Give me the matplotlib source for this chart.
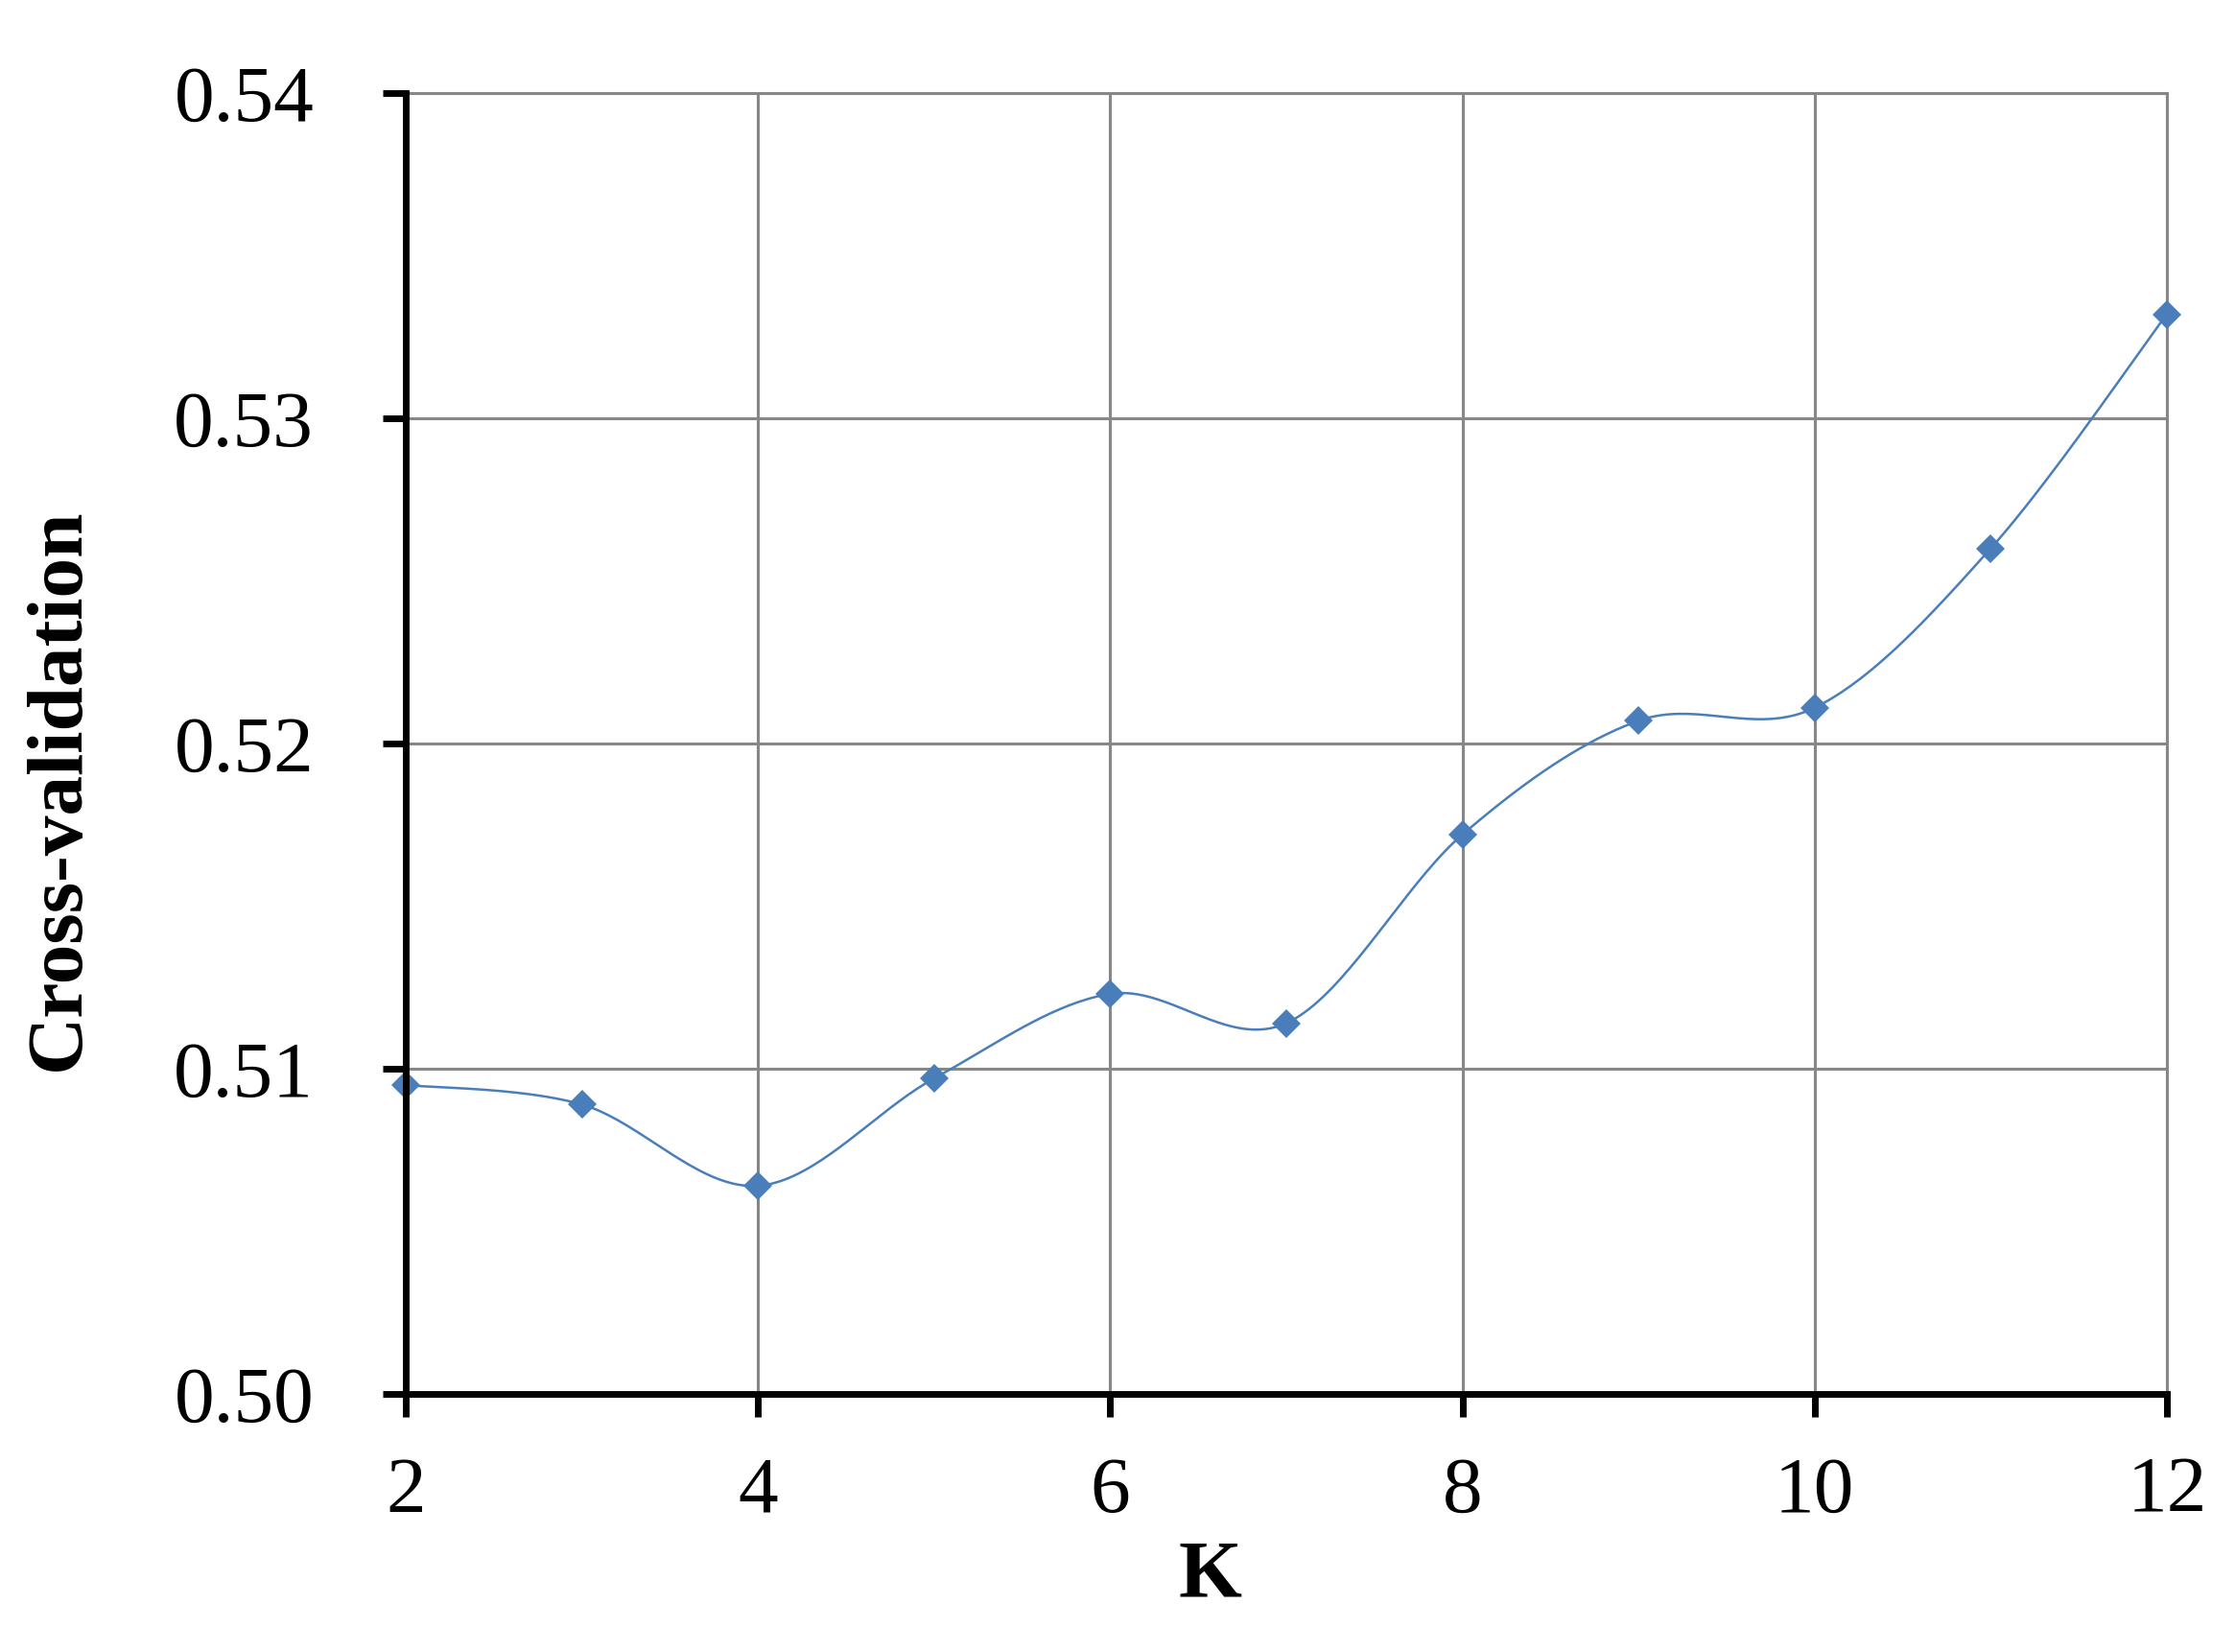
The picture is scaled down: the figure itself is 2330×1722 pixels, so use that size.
import numpy as np
import matplotlib
matplotlib.use("Agg")
import matplotlib.pyplot as plt
from matplotlib.ticker import FormatStrFormatter

# ---- data ----
k_values = [2, 3, 4, 5, 6, 7, 8, 9, 10, 11, 12]
cv_values = [0.5095, 0.5089, 0.5064, 0.5097, 0.5123, 0.5114, 0.5172, 0.5207, 0.5211, 0.5260, 0.5332]
x_ticks = [2, 4, 6, 8, 10, 12]
y_ticks = [0.50, 0.51, 0.52, 0.53, 0.54]
x_label = "K"
y_label = "Cross-validation"

W, H = 2330, 1722
fig = plt.figure(figsize=(W / 100, H / 100), dpi=100)
L, R, T, B = 423, 2259, 97, 1453
ax = fig.add_axes([L / W, 1 - B / H, (R - L) / W, (B - T) / H])

serif = ["Liberation Serif", "DejaVu Serif"]
blue = "#4A7EBB"
grid_c = "#878787"

# smooth (Excel-style Bezier / Catmull-Rom) line through the points
xs = np.array(k_values, dtype=float)
ys = np.array(cv_values, dtype=float)
P = np.column_stack([xs, ys])
Pe = np.vstack([P[0], P, P[-1]])
curve = []
t = np.linspace(0, 1, 40)[:, None]
for i in range(len(P) - 1):
    p0, p1, p2, p3 = Pe[i], Pe[i + 1], Pe[i + 2], Pe[i + 3]
    c1 = p1 + (p2 - p0) / 6.0
    c2 = p2 - (p3 - p1) / 6.0
    seg = ((1 - t) ** 3) * p1 + 3 * ((1 - t) ** 2) * t * c1 + 3 * (1 - t) * t ** 2 * c2 + t ** 3 * p2
    curve.append(seg if i == 0 else seg[1:])
curve = np.vstack(curve)

ax.plot(curve[:, 0], curve[:, 1], color=blue, lw=1.8, zorder=3, clip_on=False)
ax.plot(xs, ys, linestyle="none", marker="D", markersize=15.5, color=blue,
        markeredgewidth=0, zorder=4, clip_on=False)

ax.set_xlim(2, 12)
ax.set_ylim(0.50, 0.54)
ax.set_xticks(x_ticks)
ax.set_yticks(y_ticks)
ax.yaxis.set_major_formatter(FormatStrFormatter("%.2f"))

ax.grid(True, color=grid_c, lw=2.2, zorder=1)
ax.set_axisbelow(True)

for s in ["left", "bottom"]:
    ax.spines[s].set_color("black")
    ax.spines[s].set_linewidth(5)
    ax.spines[s].set_zorder(5)
for s in ["top", "right"]:
    ax.spines[s].set_color(grid_c)
    ax.spines[s].set_linewidth(2.2)

ax.tick_params(axis="both", direction="out", length=17, width=5, color="black",
               labelsize=60)
ax.tick_params(axis="y", pad=52)
ax.tick_params(axis="x", pad=30)
for lab in ax.get_xticklabels() + ax.get_yticklabels():
    lab.set_fontfamily(serif)

ax.set_xlabel(x_label, fontsize=61, fontweight="bold", family=serif)
ax.set_ylabel(y_label, fontsize=60, fontweight="bold", family=serif)
ax.xaxis.set_label_coords((1261 - L) / (R - L), -(1683 - B) / (B - T), transform=ax.transAxes)
ax.xaxis.label.set_va("bottom")
ax.yaxis.set_label_coords(-(L - 62) / (R - L), (B - 823) / (B - T), transform=ax.transAxes)
ax.yaxis.label.set_va("center")

fig.savefig("out.png", dpi=100, facecolor="white")
